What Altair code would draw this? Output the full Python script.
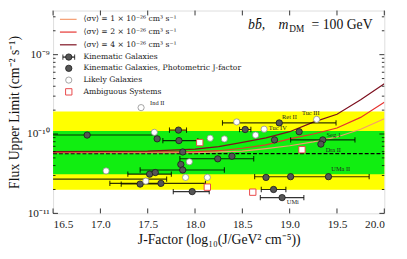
import altair as alt
import pandas as pd

W, H = 338, 207
FONT = "Liberation Serif"
LFONT = "DejaVu Serif"

# ---------------- data ----------------
# Kinematic galaxies (filled), J, flux limit, error bar lo/hi (None = no bar)
fil_J = [16.86, 17.60, 17.825, 17.83, 17.87, 17.85, 17.87, 17.52, 17.58, 17.42, 17.64, 17.97,
         18.24, 18.39, 18.53, 18.89, 18.84, 19.10, 19.35, 19.33, 18.75, 19.01, 19.41, 18.83, 18.92, 16.30]
fil_F = [9.7e-11, 8.7e-11, 1.12e-10, 8.26e-11, 5.94e-11, 4.14e-11, 3.52e-11, 3.12e-11, 3.27e-11, 2.34e-11, 2.39e-11, 1.88e-11,
         4.87e-11, 5.25e-11, 1.14e-10, 1.38e-10, 8.43e-11, 1.07e-10, 8.43e-11, 7.46e-11, 2.84e-11, 2.9e-11, 2.9e-11, 2.0e-11, 1.58e-11, 2.7e-11]
fil_lo = [16.14, None, 17.73, 17.66, None, None, 17.42, 17.29, None, 17.22, 17.10, 17.77,
          17.84, None, 18.47, 18.29, None, None, 19.01, None, None, None, 18.63, 18.70, 18.69, 14.90]
fil_hi = [17.58, None, 17.91, 18.03, None, None, 18.31, 17.75, None, 17.63, 18.11, 18.15,
          18.62, None, 18.59, 19.49, None, None, 19.69, None, None, None, 19.84, 18.96, 19.15, 17.70]

# Likely galaxies (open circles)
open_J = [17.43, 17.57, 17.06, 17.48, 17.94, 17.90, 18.13, 18.16, 18.31, 18.44, 18.64, 18.73, 19.285]
open_F = [2.15e-10, 1.05e-10, 3.43e-11, 2.55e-11, 4.47e-11, 2.84e-11, 2.84e-11, 8.85e-11, 8.67e-11, 1.42e-10, 9.7e-11, 1.15e-10, 1.53e-10]

# Ambiguous systems (red squares)
amb_J = [18.05, 18.13, 18.61, 19.13]
amb_F = [7.8e-11, 2.14e-11, 1.85e-11, 6.34e-11]

# Name labels
lab_text = ["Ind II", "Ret II", "Tuc III", "Tuc IV", "Seg 1", "Dra II", "UMa II", "UMi"]
lab_J = [17.525, 18.92, 19.13, 18.78, 19.39, 19.38, 19.44, 18.97]
lab_F = [2.48e-10, 1.64e-10, 1.83e-10, 1.2e-10, 9.7e-11, 6.3e-11, 3.6e-11, 1.37e-11]

# Expected limit bands
yellow_band = [1.92e-10, 1.98e-11]
green_band = [1.09e-10, 3.12e-11]
median_limit = 5.66e-11

# Cross-section curves
c4_J = [16.5, 17.5, 18.0, 18.25, 18.5, 18.75, 19.0, 19.25, 19.5, 19.75, 20.0]
c4_F = [6.0e-11, 6.08e-11, 6.44e-11, 6.92e-11, 7.86e-11, 8.93e-11, 1.07e-10, 1.41e-10, 1.77e-10, 2.7e-10, 4.3e-10]
c2_J = [16.5, 18.0, 18.25, 18.5, 18.75, 19.0, 19.25, 19.5, 19.75, 20.0]
c2_F = [5.91e-11, 6.0e-11, 6.16e-11, 6.62e-11, 7.31e-11, 8.67e-11, 1.0e-10, 1.19e-10, 1.62e-10, 2.51e-10]
c1_J = [16.5, 18.0, 18.5, 18.75, 19.0, 19.25, 19.5, 19.75, 20.0]
c1_F = [5.82e-11, 5.82e-11, 6.08e-11, 6.53e-11, 7.11e-11, 7.96e-11, 9.18e-11, 1.15e-10, 1.56e-10]

curve_names = ["⟨σv⟩ = 1 × 10⁻²⁶ cm³ s⁻¹", "⟨σv⟩ = 2 × 10⁻²⁶ cm³ s⁻¹", "⟨σv⟩ = 4 × 10⁻²⁶ cm³ s⁻¹"]
curve_colors = ["#f59b6e", "#e6332f", "#7d0f1e"]
marker_names = ["Kinematic Galaxies", "Kinematic Galaxies, Photometric J-factor", "Likely Galaxies", "Ambiguous Systems"]

x_ticks = [16.5, 17.0, 17.5, 18.0, 18.5, 19.0, 19.5, 20.0]
y_major = [1e-11, 1e-10, 1e-9]
y_minor = [k * 10.0 ** e for e in (-11, -10, -9) for k in range(2, 10) if k * 10.0 ** e < 3.6e-9]

# ---------------- scales / axes ----------------
xs = alt.Scale(domain=[16.5, 20.0], nice=False, zero=False)
ys = alt.Scale(type="log", domain=[1e-11, 3.6e-9], nice=False)

ax_x = alt.Axis(values=x_ticks, format=".1f", ticks=False, grid=False, domain=False,
                labelFont=FONT, labelFontSize=11.5, labelPadding=5, labelColor="#222",
                title="J-Factor (log₁₀(J/GeV² cm⁻⁵))", titleFont=FONT, titleFontSize=14,
                titleFontWeight="normal", titlePadding=3, titleColor="#111")
ax_y = alt.Axis(values=y_major, ticks=False, grid=False, domain=False,
                labelExpr="datum.value < 5e-11 ? '10⁻¹¹' : datum.value < 5e-10 ? '10⁻¹⁰' : '10⁻⁹'",
                labelFont=FONT, labelFontSize=11.5, labelPadding=4, labelColor="#222",
                title="Flux Upper Limit (cm⁻² s⁻¹)", titleFont=FONT, titleFontSize=14,
                titleFontWeight="normal", titlePadding=5, titleColor="#111")

X = lambda f: alt.X(f, type="quantitative", scale=xs, axis=ax_x)
Y = lambda f: alt.Y(f, type="quantitative", scale=ys, axis=ax_y)

# bands
band_df = pd.DataFrame({"top": [yellow_band[0], green_band[0]], "bot": [yellow_band[1], green_band[1]]})
yel = alt.Chart(band_df.iloc[[0]]).mark_rect(color="#ffff00").encode(x=alt.value(0), x2=alt.value(W), y=Y("top"), y2="bot")
grn = alt.Chart(band_df.iloc[[1]]).mark_rect(color="#11ee11").encode(x=alt.value(0), x2=alt.value(W), y=Y("top"), y2="bot")

dash = alt.Chart(pd.DataFrame({"v": [median_limit]})).mark_rule(
    color="black", strokeDash=[4, 2], strokeWidth=1.2).encode(x=alt.value(0), x2=alt.value(W), y=Y("v"))

# curves
cdf = pd.concat([
    pd.DataFrame({"J": c1_J, "F": c1_F, "s": curve_names[0]}),
    pd.DataFrame({"J": c2_J, "F": c2_F, "s": curve_names[1]}),
    pd.DataFrame({"J": c4_J, "F": c4_F, "s": curve_names[2]}),
])
curves = alt.Chart(cdf).mark_line(clip=True, strokeWidth=1.2).encode(
    x=X("J"), y=Y("F"),
    color=alt.Color("s:N", scale=alt.Scale(domain=curve_names, range=curve_colors), legend=None),
)

# error bars
edf = pd.DataFrame({"J": fil_J, "F": fil_F, "lo": fil_lo, "hi": fil_hi}).dropna()
ebar = alt.Chart(edf).mark_rule(clip=True, color="black", opacity=0.8, strokeWidth=1.1).encode(
    x=X("lo"), x2="hi", y=Y("F"))
cap_path = "M0,-1L0,1"
caplo = alt.Chart(edf).mark_point(clip=True, shape=cap_path, size=30, color="black", opacity=0.8,
                                  strokeWidth=1.1, filled=False).encode(x=X("lo"), y=Y("F"))
caphi = alt.Chart(edf).mark_point(clip=True, shape=cap_path, size=30, color="black", opacity=0.8,
                                  strokeWidth=1.1, filled=False).encode(x=X("hi"), y=Y("F"))

fdf = pd.DataFrame({"J": fil_J, "F": fil_F})
filled = alt.Chart(fdf).mark_point(clip=True, shape="circle", filled=True, fill="#555555", stroke="#1a1a1a",
                                   strokeWidth=0.8, size=42, opacity=1).encode(x=X("J"), y=Y("F"))
odf = pd.DataFrame({"J": open_J, "F": open_F})
opens = alt.Chart(odf).mark_point(clip=True, shape="circle", filled=True, fill="white", stroke="#8c8c8c",
                                  strokeWidth=0.8, size=40, opacity=1).encode(x=X("J"), y=Y("F"))
adf = pd.DataFrame({"J": amb_J, "F": amb_F})
ambs = alt.Chart(adf).mark_point(clip=True, shape="square", filled=True, fill="white", stroke="#e8484a",
                                 strokeWidth=1, size=42, opacity=1).encode(x=X("J"), y=Y("F"))

ldf = pd.DataFrame({"J": lab_J, "F": lab_F, "t": lab_text})
labels = alt.Chart(ldf).mark_text(align="left", baseline="middle", font=FONT, fontSize=6.5, color="#222").encode(
    x=X("J"), y=Y("F"), text="t:N")

# inward ticks
tk = []
ydf_maj = pd.DataFrame({"v": y_major})
ydf_min = pd.DataFrame({"v": y_minor})
xdf = pd.DataFrame({"v": x_ticks})
for d, ln in ((ydf_maj, 5), (ydf_min, 2.5)):
    tk.append(alt.Chart(d).mark_rule(color="black", strokeWidth=0.8).encode(x=alt.value(0), x2=alt.value(ln), y=Y("v")))
    tk.append(alt.Chart(d).mark_rule(color="black", strokeWidth=0.8).encode(x=alt.value(W - ln), x2=alt.value(W), y=Y("v")))
tk.append(alt.Chart(xdf).mark_rule(color="black", strokeWidth=0.8).encode(x=X("v"), y=alt.value(H), y2=alt.value(H - 5)))
tk.append(alt.Chart(xdf).mark_rule(color="black", strokeWidth=0.8).encode(x=X("v"), y=alt.value(0), y2=alt.value(5)))

# legend (drawn in pixel space)
one = pd.DataFrame({"a": [0]})
leg = []
row_y = [9, 22, 35, 47.5, 59, 71, 83]
sw_x0, sw_x1, mk_x, tx_x = 7, 24, 16, 31
for i in range(3):
    leg.append(alt.Chart(one).mark_rule(color=curve_colors[i], strokeWidth=1.2).encode(
        x=alt.value(sw_x0), x2=alt.value(sw_x1), y=alt.value(row_y[i])))
leg.append(alt.Chart(one).mark_rule(color="black", strokeWidth=1.1).encode(
    x=alt.value(mk_x - 6), x2=alt.value(mk_x + 6), y=alt.value(row_y[3])))
for dx in (-6, 6):
    leg.append(alt.Chart(one).mark_point(shape=cap_path, size=30, color="black", strokeWidth=1.1, filled=False).encode(
        x=alt.value(mk_x + dx), y=alt.value(row_y[3])))
leg.append(alt.Chart(one).mark_point(shape="circle", filled=True, fill="#555555", stroke="#1a1a1a", strokeWidth=0.8,
                                     size=42, opacity=1).encode(x=alt.value(mk_x), y=alt.value(row_y[3])))
leg.append(alt.Chart(one).mark_point(shape="circle", filled=True, fill="#555555", stroke="#1a1a1a", strokeWidth=0.8,
                                     size=42, opacity=1).encode(x=alt.value(mk_x), y=alt.value(row_y[4])))
leg.append(alt.Chart(one).mark_point(shape="circle", filled=True, fill="white", stroke="#8c8c8c", strokeWidth=0.8,
                                     size=40, opacity=1).encode(x=alt.value(mk_x), y=alt.value(row_y[5])))
leg.append(alt.Chart(one).mark_point(shape="square", filled=True, fill="white", stroke="#e8484a", strokeWidth=1,
                                     size=42, opacity=1).encode(x=alt.value(mk_x), y=alt.value(row_y[6])))
for i, name in enumerate(curve_names + marker_names):
    leg.append(alt.Chart(one).mark_text(align="left", baseline="middle", font=LFONT, fontSize=7.8, color="#222",
                                        text=name).encode(x=alt.value(tx_x), y=alt.value(row_y[i])))

# corner title
ttl = [
    alt.Chart(one).mark_text(align="left", baseline="alphabetic", font=FONT, fontSize=14, fontStyle="italic",
                             color="#111", text="bb̄,").encode(x=alt.value(199), y=alt.value(19)),
    alt.Chart(one).mark_text(align="left", baseline="alphabetic", font=FONT, fontSize=14, fontStyle="italic",
                             color="#111", text="m").encode(x=alt.value(230), y=alt.value(19)),
    alt.Chart(one).mark_text(align="left", baseline="alphabetic", font=FONT, fontSize=9.5,
                             color="#111", text="DM").encode(x=alt.value(241), y=alt.value(22)),
    alt.Chart(one).mark_text(align="right", baseline="alphabetic", font=FONT, fontSize=14,
                             color="#111", text="= 100 GeV").encode(x=alt.value(326), y=alt.value(19)),
]

chart = alt.layer(
    yel, grn, dash, curves, ebar, caplo, caphi, filled, opens, ambs, labels, *tk, *leg, *ttl
).properties(
    width=W, height=H,
    padding={"left": 46, "top": 0, "right": 15, "bottom": 44},
    autosize=alt.AutoSizeParams(type="none"),
).configure_view(stroke="black", strokeWidth=1.2).configure(background="white")

chart.save("out.html", embed_options={"renderer": "svg", "actions": False})
